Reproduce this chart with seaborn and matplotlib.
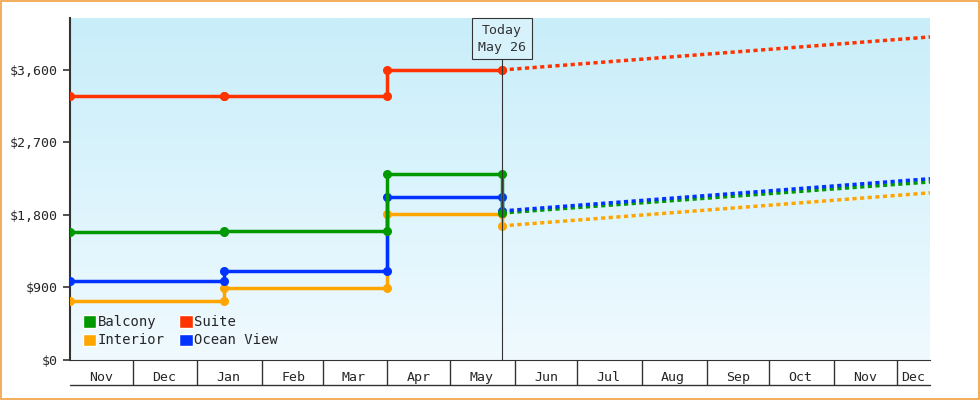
import matplotlib
matplotlib.use("Agg")
import matplotlib.pyplot as plt
import numpy as np
import pandas as pd
import seaborn as sns
from matplotlib.colors import LinearSegmentedColormap
from matplotlib.patches import Patch

sns.set_style("white")
plt.rcParams['font.family'] = ['DejaVu Sans Mono']

series = ["Balcony", "Suite", "Interior", "Ocean View"]
colors = {"Balcony": "#009900", "Suite": "#ff3300", "Interior": "#ffa500", "Ocean View": "#0033ff"}
hist_dates = ["2023-11-01", "2024-01-14", "2024-01-14", "2024-04-01", "2024-04-01", "2024-05-26", "2024-05-26"]
hist_vals = {
    "Balcony":    [1590, 1590, 1600, 1600, 2310, 2310, 1825],
    "Suite":      [3280, 3280, 3280, 3280, 3600, 3600, 3600],
    "Interior":   [730, 730, 895, 895, 1810, 1810, 1665],
    "Ocean View": [980, 980, 1105, 1105, 2025, 2025, 1850],
}
fc_dates = ["2024-05-26", "2024-12-17"]
fc_vals = {
    "Balcony": [1825, 2210],
    "Suite": [3600, 4010],
    "Interior": [1665, 2075],
    "Ocean View": [1850, 2250],
}
yticks = [0, 900, 1800, 2700, 3600]
month_labels = ["Nov", "Dec", "Jan", "Feb", "Mar", "Apr", "May", "Jun", "Jul", "Aug", "Sep", "Oct", "Nov", "Dec"]
today = "2024-05-26"

fig = plt.figure(figsize=(9.8, 4.0), dpi=100)
fig.patch.set_facecolor("white")
fig.patches.append(plt.Rectangle((0.001, 0.002), 0.998, 0.996, transform=fig.transFigure,
                                 fill=False, edgecolor="#f0a040", linewidth=1.2))
ax = fig.add_axes([70/980, 40/400, 860/980, 342/400])

grad = np.linspace(0, 1, 256).reshape(-1, 1)
cmap = LinearSegmentedColormap.from_list("g", ["#f0faff", "#c8eefa"])
ax.imshow(grad, aspect="auto", cmap=cmap, origin="lower", extent=[0, 1, 0, 1],
          transform=ax.transAxes, zorder=0)

rows = []
for s in series:
    for i, (d, v) in enumerate(zip(hist_dates, hist_vals[s])):
        rows.append({"date": pd.Timestamp(d), "price": v, "series": s, "order": i})
hist = pd.DataFrame(rows)
frows = []
for s in series:
    for d, v in zip(fc_dates, fc_vals[s]):
        frows.append({"date": pd.Timestamp(d), "price": v, "series": s})
fc = pd.DataFrame(frows)

for s in ["Suite", "Interior", "Balcony", "Ocean View"]:
    sub = fc[fc.series == s]
    sns.lineplot(data=sub, x="date", y="price", ax=ax, color=colors[s], linewidth=2.5,
                 linestyle=(0, (1.2, 1.0)), legend=False, zorder=3, estimator=None)
for s in ["Interior", "Ocean View", "Balcony", "Suite"]:
    sub = hist[hist.series == s]
    sns.lineplot(data=sub, x="date", y="price", ax=ax, sort=False, estimator=None, color=colors[s],
                 linewidth=2.5, marker="o", markersize=6.5, markeredgewidth=0, legend=False, zorder=4)

ax.set_xlim(pd.Timestamp("2023-11-01"), pd.Timestamp("2024-12-17"))
ax.set_ylim(0, 4245)
ax.set_yticks(yticks)
ax.set_yticklabels([f"${v:,}" for v in yticks], fontsize=9.5)
ax.set_xlabel("")
ax.set_ylabel("")
for sp in ["top", "right"]:
    ax.spines[sp].set_visible(False)
ax.spines["left"].set_color("#333333")
ax.spines["left"].set_linewidth(1.5)
ax.spines["bottom"].set_color("#333333")
ax.tick_params(axis="y", left=True, length=5, color="#333333", width=1.2)

starts = pd.date_range("2023-11-01", "2024-12-01", freq="MS")
mids = [d + pd.Timedelta(days=15) for d in starts[:-1]] + [pd.Timestamp("2024-12-09")]
ax.set_xticks(list(starts[1:]))
ax.xaxis.set_major_formatter(plt.NullFormatter())
ax.set_xticks(mids, minor=True)
ax.set_xticklabels(month_labels, minor=True)
ax.tick_params(axis="x", which="major", bottom=True, length=18, color="#333333", width=1)
ax.tick_params(axis="x", which="minor", bottom=False, labelsize=9.5, pad=6)
ax.plot([0, 1], [-25/342, -25/342], transform=ax.transAxes, color="#333333", lw=1, clip_on=False)

ax.axvline(pd.Timestamp(today), color="#333333", lw=0.8, zorder=5)
ax.text(pd.Timestamp(today), 3990, "Today\nMay 26", ha="center", va="center", fontsize=9.5,
        color="#333333", zorder=6, linespacing=1.4,
        bbox=dict(boxstyle="square,pad=0.45", facecolor="#d8f2fb", edgecolor="#333333", linewidth=0.8))

handles = [Patch(facecolor=colors[s], label=s) for s in ["Balcony", "Interior", "Suite", "Ocean View"]]
ax.legend(handles=handles, ncol=2, loc="lower left", bbox_to_anchor=(0.0, 0.0), frameon=False,
          fontsize=10, handlelength=1.0, handleheight=1.0, handletextpad=0.1, columnspacing=1.0,
          labelspacing=0.3)

fig.savefig("out.png", dpi=100)
